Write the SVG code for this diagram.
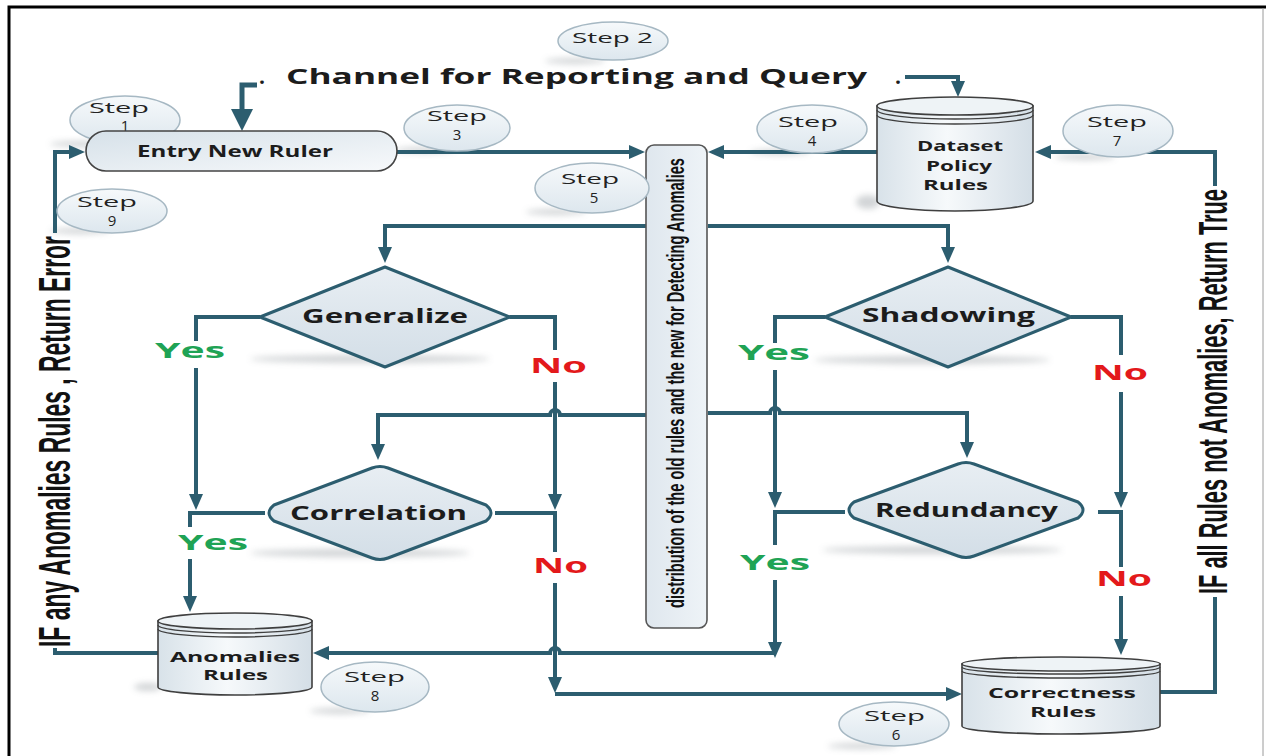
<svg xmlns="http://www.w3.org/2000/svg" width="1266" height="756" viewBox="0 0 1266 756">
<defs>
<style>
.c{fill:none;stroke:#2c5d6f;stroke-width:4;stroke-linejoin:miter}
.ca{fill:none;stroke:#2c5d6f;stroke-width:4;marker-end:url(#ah)}
.cb{fill:none;stroke:#2c5d6f;stroke-width:5;marker-end:url(#ahb)}
.bub{fill:url(#gBub);stroke:#a6b8c3;stroke-width:1.5}
.dia{fill:url(#gDia);stroke:#2c5d6f;stroke-width:3;stroke-linejoin:round}
.cyl{fill:url(#gCyl);stroke:#3f3f3f;stroke-width:1.6}
.cylt{fill:#eef3f6;stroke:#3f3f3f;stroke-width:1.6}
.ring{fill:none;stroke:#3f3f3f;stroke-width:1.4}
.sh{fill:#8f969b;opacity:0.4;filter:url(#blur)}
.lbl{font-family:'Open Sans','Liberation Sans',sans-serif;font-weight:700;fill:#1c1c1c}
.step{font-family:'Open Sans','Liberation Sans',sans-serif;font-weight:400;font-size:15px;fill:#222}
.yes{font-family:'Open Sans','Liberation Sans',sans-serif;font-weight:700;font-size:21px;fill:#1fa355}
.no{font-family:'Open Sans','Liberation Sans',sans-serif;font-weight:700;font-size:22px;fill:#e3191b}
.nar{font-family:'Liberation Sans',Arial,sans-serif;font-weight:700;fill:#111}
</style>
<linearGradient id="gBub" x1="0" y1="0" x2="0" y2="1">
<stop offset="0" stop-color="#f6f9fb"/><stop offset="1" stop-color="#dde7ee"/>
</linearGradient>
<linearGradient id="gDia" x1="0" y1="0" x2="0" y2="1">
<stop offset="0" stop-color="#e8eef3"/><stop offset="1" stop-color="#d3dee7"/>
</linearGradient>
<linearGradient id="gCyl" x1="0" y1="0" x2="1" y2="0">
<stop offset="0" stop-color="#d8e2e9"/><stop offset="0.45" stop-color="#f6f9fb"/><stop offset="1" stop-color="#d4dee6"/>
</linearGradient>
<linearGradient id="gEnt" x1="0" y1="0" x2="1" y2="1">
<stop offset="0" stop-color="#d6e1e9"/><stop offset="1" stop-color="#f7f9fb"/>
</linearGradient>
<linearGradient id="gBar" x1="0" y1="0" x2="1" y2="0">
<stop offset="0" stop-color="#dfe7ee"/><stop offset="1" stop-color="#eef3f7"/>
</linearGradient>
<filter id="blur" x="-50%" y="-100%" width="200%" height="300%"><feGaussianBlur stdDeviation="3"/></filter>
<marker id="ah" viewBox="0 0 16 16" refX="10" refY="8" markerWidth="16" markerHeight="16" markerUnits="userSpaceOnUse" orient="auto"><path d="M0,1 L16,8 L0,15 Z" fill="#2c5d6f"/></marker>
<marker id="ahb" viewBox="0 0 22 22" refX="14" refY="11" markerWidth="22" markerHeight="22" markerUnits="userSpaceOnUse" orient="auto"><path d="M0,0 L22,11 L0,22 Z" fill="#2c5d6f"/></marker>
</defs>
<rect x="0" y="0" width="1266" height="756" fill="#ffffff"/>
<path d="M9,756 V7 H1266" fill="none" stroke="#000" stroke-width="3"/>
<line x1="1263" y1="8" x2="1263" y2="756" stroke="#9a9a9a" stroke-width="1"/>

<g id="shadows">
<ellipse class="sh" cx="370" cy="359" rx="120" ry="4"/>
<ellipse class="sh" cx="932" cy="360" rx="118" ry="4"/>
<ellipse class="sh" cx="360" cy="553" rx="110" ry="4"/>
<ellipse class="sh" cx="942" cy="550" rx="120" ry="4"/>
<ellipse class="sh" cx="82" cy="144" rx="32" ry="3"/>
<ellipse class="sh" cx="80" cy="231" rx="30" ry="3"/>
<ellipse class="sh" cx="575" cy="61" rx="30" ry="3"/>
<ellipse class="sh" cx="425" cy="150" rx="30" ry="3"/>
<ellipse class="sh" cx="780" cy="152" rx="30" ry="3"/>
<ellipse class="sh" cx="556" cy="212" rx="30" ry="3"/>
<ellipse class="sh" cx="862" cy="746" rx="34" ry="3"/>
<ellipse class="sh" cx="1085" cy="157" rx="30" ry="3"/>
<ellipse class="sh" cx="340" cy="711" rx="30" ry="3"/>
<ellipse class="sh" cx="868" cy="202" rx="12" ry="7"/>
<ellipse class="sh" cx="148" cy="687" rx="14" ry="4"/>
</g>

<g id="connectors">
<path class="cb" d="M257,85 H242 V123"/>
<path class="ca" d="M905,77 H958 V91"/>
<path class="ca" d="M397,152 H639"/>
<path class="ca" d="M877,152 H714"/>
<path class="c" d="M1160,692 H1215 V597"/>
<path class="ca" d="M1215,186 V152 H1041"/>
<path class="c" d="M158,653 H55 V648"/>
<path class="ca" d="M55,233 V152 H79"/>
<path class="ca" d="M646,226 H385 V257"/>
<path class="ca" d="M708,226 H948 V257"/>
<path class="c" d="M260,317 H196 V341"/>
<path class="ca" d="M196,368 V504"/>
<path class="c" d="M510,317 H555 V350"/>
<path class="ca" d="M555,382 V504"/>
<path class="ca" d="M646,415 H560 A5,5 0 0 0 550,415 H378 V454"/>
<path class="c" d="M265,513 H190 V527"/>
<path class="ca" d="M190,559 V606"/>
<path class="c" d="M495,513 H555 V552"/>
<path class="ca" d="M555,583 V687"/>
<path class="ca" d="M555,694 H956"/>
<path class="c" d="M825,317 H775 V343"/>
<path class="ca" d="M775,370 V502"/>
<path class="ca" d="M708,413 H770 A5,5 0 0 1 780,413 H967 V452"/>
<path class="c" d="M845,512 H775 V545"/>
<path class="ca" d="M775,580 V652"/>
<path class="c" d="M1071,317 H1121 V355"/>
<path class="ca" d="M1121,392 V502"/>
<path class="c" d="M1098,512 H1121 V567"/>
<path class="ca" d="M1121,596 V649"/>
<path class="ca" d="M776,653 H560 A5,5 0 0 0 550,653 H319"/>
</g>

<g id="labels">
<text class="lbl" x="286" y="84" font-size="21" textLength="581" lengthAdjust="spacingAndGlyphs">Channel for Reporting and Query</text>
<text class="lbl" x="259" y="84" font-size="21">.</text>
<text class="lbl" x="895" y="84" font-size="21">.</text>
<text class="nar" transform="translate(70,647) rotate(-90) scale(1,1.93)" font-size="22.8" textLength="411" lengthAdjust="spacingAndGlyphs">IF any Anomalies Rules , Return Error</text>
<text class="nar" transform="translate(1227,594) rotate(-90) scale(1,1.84)" font-size="21.7" textLength="405" lengthAdjust="spacingAndGlyphs">IF all Rules not Anomalies, Return True</text>
<text class="yes" x="155" y="358" textLength="70" lengthAdjust="spacingAndGlyphs">Yes</text>
<text class="yes" x="738" y="360" textLength="72" lengthAdjust="spacingAndGlyphs">Yes</text>
<text class="yes" x="178" y="550" textLength="70" lengthAdjust="spacingAndGlyphs">Yes</text>
<text class="yes" x="740" y="570" textLength="70" lengthAdjust="spacingAndGlyphs">Yes</text>
<text class="no" x="530" y="373" textLength="57" lengthAdjust="spacingAndGlyphs">No</text>
<text class="no" x="1092" y="380" textLength="56" lengthAdjust="spacingAndGlyphs">No</text>
<text class="no" x="533" y="573" textLength="55" lengthAdjust="spacingAndGlyphs">No</text>
<text class="no" x="1096" y="586" textLength="56" lengthAdjust="spacingAndGlyphs">No</text>
</g>

<g id="bar">
<rect x="646" y="145" width="61" height="483" rx="8" fill="url(#gBar)" stroke="#555" stroke-width="1.6"/>
<text class="nar" transform="translate(684,608) rotate(-90) scale(1,1.7)" font-size="14.6" textLength="450" lengthAdjust="spacingAndGlyphs">distribution of the old rules and the new for Detecting Anomalies</text>
</g>

<g id="step1">
<ellipse class="bub" cx="125" cy="120" rx="55" ry="24"/>
<text class="step"><tspan x="89" y="113" textLength="60" lengthAdjust="spacingAndGlyphs">Step</tspan><tspan x="125" y="131" text-anchor="middle">1</tspan></text>
</g>

<g id="entry">
<rect x="86" y="131" width="311" height="40" rx="20" fill="url(#gEnt)" stroke="#444" stroke-width="1.6"/>
<text class="lbl" x="137" y="157" font-size="15.5" textLength="196" lengthAdjust="spacingAndGlyphs">Entry New Ruler</text>
</g>

<g id="dataset">
<path class="cyl" d="M877,106 V201 A78,10 0 0 0 1033,201 V106 Z"/>
<ellipse class="cylt" cx="955" cy="106" rx="78" ry="9"/>
<path class="ring" d="M877,110 A78,9 0 0 0 1033,110 M877,115 A78,9 0 0 0 1033,115"/>
<text class="lbl" font-size="14.5"><tspan x="917" y="151" textLength="86" lengthAdjust="spacingAndGlyphs">Dataset</tspan><tspan x="926" y="171" textLength="66" lengthAdjust="spacingAndGlyphs">Policy</tspan><tspan x="923" y="190" textLength="65" lengthAdjust="spacingAndGlyphs">Rules</tspan></text>
</g>

<g id="anomalies">
<path class="cyl" d="M158,621 V687 A77,8 0 0 0 312,687 V621 Z"/>
<ellipse class="cylt" cx="235" cy="621" rx="77" ry="8"/>
<path class="ring" d="M158,625 A77,8 0 0 0 312,625 M158,629 A77,8 0 0 0 312,629"/>
<text class="lbl" font-size="14"><tspan x="170" y="662" textLength="130" lengthAdjust="spacingAndGlyphs">Anomalies</tspan><tspan x="203" y="680" textLength="65" lengthAdjust="spacingAndGlyphs">Rules</tspan></text>
</g>

<g id="correctness">
<path class="cyl" d="M962,664 V726 A99,8 0 0 0 1160,726 V664 Z"/>
<ellipse class="cylt" cx="1061" cy="664" rx="99" ry="7"/>
<path class="ring" d="M962,667 A99,7 0 0 0 1160,667 M962,671 A99,7 0 0 0 1160,671"/>
<text class="lbl" font-size="14"><tspan x="988" y="698" textLength="148" lengthAdjust="spacingAndGlyphs">Correctness</tspan><tspan x="1030" y="717" textLength="66" lengthAdjust="spacingAndGlyphs">Rules</tspan></text>
</g>

<g id="generalize">
<path class="dia" d="M260,317 L385,267 L510,317 L385,367 Z"/>
<text class="lbl" x="302" y="323" font-size="19" textLength="166" lengthAdjust="spacingAndGlyphs">Generalize</text>
</g>

<g id="shadowing">
<path class="dia" d="M825,317 L948,267 L1071,317 L948,367 Z"/>
<text class="lbl" x="862" y="322" font-size="20" textLength="173" lengthAdjust="spacingAndGlyphs">Shadowing</text>
</g>

<g id="correlation">
<path class="dia" d="M274,505 L372,468 Q380,465 388,468 L486,505 Q496,513 486,521 L388,558 Q380,561 372,558 L274,521 Q264,513 274,505 Z"/>
<text class="lbl" x="290" y="520" font-size="19" textLength="177" lengthAdjust="spacingAndGlyphs">Correlation</text>
</g>

<g id="redundancy">
<path class="dia" d="M854,502 L958,464 Q966,461 974,464 L1078,502 Q1088,510 1078,518 L974,556 Q966,559 958,556 L854,518 Q844,510 854,502 Z"/>
<text class="lbl" x="875" y="517" font-size="19" textLength="183" lengthAdjust="spacingAndGlyphs">Redundancy</text>
</g>

<g id="step2">
<ellipse class="bub" cx="613" cy="41" rx="55" ry="19"/>
<text class="step" x="572" y="43" font-size="17" textLength="81" lengthAdjust="spacingAndGlyphs">Step 2</text>
</g>
<g id="step3">
<ellipse class="bub" cx="457" cy="128" rx="53" ry="23"/>
<text class="step"><tspan x="427" y="121" textLength="60" lengthAdjust="spacingAndGlyphs">Step</tspan><tspan x="457" y="140" text-anchor="middle">3</tspan></text>
</g>
<g id="step4">
<ellipse class="bub" cx="812" cy="129" rx="55" ry="24"/>
<text class="step"><tspan x="778" y="127" textLength="60" lengthAdjust="spacingAndGlyphs">Step</tspan><tspan x="812" y="146" text-anchor="middle">4</tspan></text>
</g>
<g id="step5">
<ellipse class="bub" cx="592" cy="188" rx="57" ry="25"/>
<text class="step"><tspan x="561" y="184" textLength="58" lengthAdjust="spacingAndGlyphs">Step</tspan><tspan x="594" y="203" text-anchor="middle">5</tspan></text>
</g>
<g id="step6">
<ellipse class="bub" cx="894" cy="724" rx="55" ry="22"/>
<text class="step"><tspan x="864" y="721" textLength="61" lengthAdjust="spacingAndGlyphs">Step</tspan><tspan x="896" y="740" text-anchor="middle">6</tspan></text>
</g>
<g id="step7">
<ellipse class="bub" cx="1118" cy="131" rx="55" ry="26"/>
<text class="step"><tspan x="1087" y="127" textLength="60" lengthAdjust="spacingAndGlyphs">Step</tspan><tspan x="1117" y="146" text-anchor="middle">7</tspan></text>
</g>
<g id="step8">
<ellipse class="bub" cx="375" cy="687" rx="54" ry="25"/>
<text class="step"><tspan x="344" y="682" textLength="61" lengthAdjust="spacingAndGlyphs">Step</tspan><tspan x="375" y="701" text-anchor="middle">8</tspan></text>
</g>
<g id="step9">
<ellipse class="bub" cx="112" cy="211" rx="55" ry="22"/>
<text class="step"><tspan x="77" y="207" textLength="60" lengthAdjust="spacingAndGlyphs">Step</tspan><tspan x="112" y="226" text-anchor="middle">9</tspan></text>
</g>
</svg>
